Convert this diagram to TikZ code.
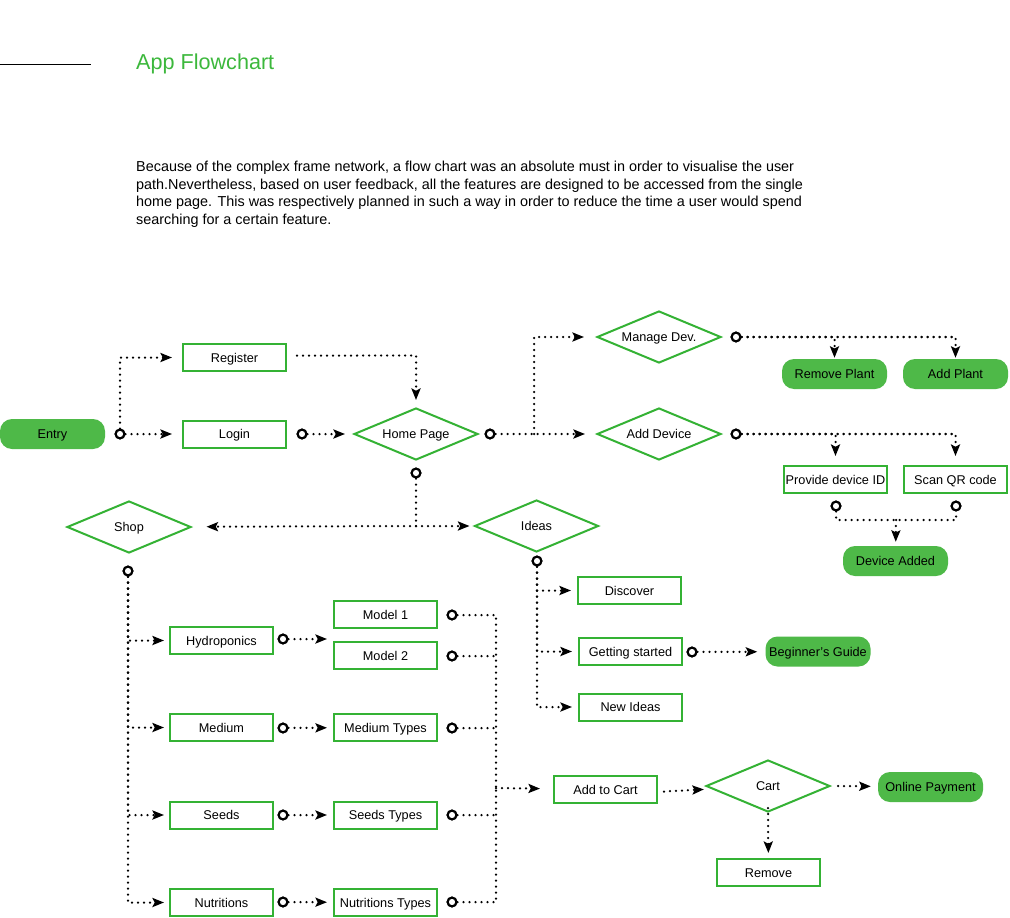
\documentclass[tikz,border=0pt]{standalone}
\usepackage{fontspec}
\setmainfont{Liberation Sans}
\usetikzlibrary{shapes.geometric,arrows.meta}
\definecolor{gline}{RGB}{52,178,52}
\definecolor{gfill}{RGB}{78,185,72}
\definecolor{gtitle}{RGB}{60,184,60}
\begin{document}
\begin{tikzpicture}[x=1pt,y=-1pt,
  nodefont/.style={font=\fontsize{12.7}{14}\selectfont,text height=9.1pt,text depth=0pt},
  box/.style={draw=gline,line width=2pt,minimum width=103pt,minimum height=27pt,inner sep=0pt,nodefont},
  term/.style={fill=gfill,draw=none,rounded corners=12pt,minimum width=105pt,minimum height=30pt,inner sep=0pt,nodefont},
  dia/.style={diamond,aspect=2.4,draw=gline,line width=2pt,minimum width=124pt,minimum height=52pt,inner sep=0pt,nodefont},
  port/.style={circle,draw=black,line width=2pt,fill=white,minimum size=9pt,inner sep=0pt},
  dots/.style={line width=2.5pt,line cap=round,dash pattern=on 0pt off 6pt},
  flow/.style={dots,-{Stealth[length=11.5pt,width=9pt,inset=2.2pt]},shorten >=#1},
  flow/.default=7pt]
\fill[white] (0,0) rectangle (1010,918);
\useasboundingbox (0,0) rectangle (1010,918);

% header
\draw[line width=1pt] (0,64) -- (91,64);
\node[anchor=west,inner sep=0pt,text=gtitle,font=\fontsize{21.6}{24}\selectfont] (title) at (136,63.5) {App Flowchart};
\node[anchor=north west,inner sep=0pt,align=left,font=\fontsize{14.4}{17.5}\selectfont] (body) at (136,161)
{Because of the complex frame network, a flow chart was an absolute must in order to visualise the user\\
path.Nevertheless, based on user feedback, all the features are designed to be accessed from the single\\
home page. This was respectively planned in such a way in order to reduce the time a user would spend\\
searching for a certain feature.};

% nodes
\node[term] (entry) at (52.5,434) {Entry};
\node[box] (register) at (234.5,357.5) {Register};
\node[box] (login) at (234.5,434) {Login};
\node[dia] (home) at (416,434) {Home Page};
\node[dia] (managedev) at (659,337) {Manage Dev.};
\node[dia] (adddev) at (659,434) {Add Device};
\node[term] (removeplant) at (834.5,374) {Remove Plant};
\node[term] (addplant) at (955.5,374) {Add Plant};
\node[box] (provide) at (835.5,479.5) {Provide device ID};
\node[box] (scan) at (955.5,479.5) {Scan QR code};
\node[term] (devadded) at (895.5,561) {Device Added};
\node[dia] (shop) at (129,527) {Shop};
\node[dia] (ideas) at (536.5,526) {Ideas};
\node[box] (hydro) at (221.5,640.5) {Hydroponics};
\node[box] (model1) at (385.5,614.5) {Model 1};
\node[box] (model2) at (385.5,655.5) {Model 2};
\node[box] (medium) at (221.5,727.5) {Medium};
\node[box] (mediumt) at (385.5,727.5) {Medium Types};
\node[box] (seeds) at (221.5,815) {Seeds};
\node[box] (seedst) at (385.5,815) {Seeds Types};
\node[box] (nutri) at (221.5,902.5) {Nutritions};
\node[box] (nutrit) at (385.5,902.5) {Nutritions Types};
\node[box] (discover) at (629.5,590.5) {Discover};
\node[box] (getting) at (630.5,651.5) {Getting started};
\node[box] (newideas) at (630.5,707) {New Ideas};
\node[term] (guide) at (818,651.5) {Beginner’s Guide};
\node[box] (addcart) at (605.5,789.5) {Add to Cart};
\node[dia] (cart) at (768,786) {Cart};
\node[term] (pay) at (930.5,787) {Online Payment};
\node[box] (remove) at (768.5,872.5) {Remove};

% ports (small open circles)
\node[port] (pEntry) at (120,434) {};
\node[port] (pLogin) at (302,434) {};
\node[port] (pHomeR) at (490,434) {};
\node[port] (pHomeB) at (416,473) {};
\node[port] (pManage) at (736,337) {};
\node[port] (pAdd) at (736,434) {};
\node[port] (pProvide) at (836,506) {};
\node[port] (pScan) at (956,506) {};
\node[port] (pShop) at (128,571) {};
\node[port] (pIdeas) at (537,561) {};
\node[port] (pHydro) at (283,639) {};
\node[port] (pMedium) at (283,728) {};
\node[port] (pSeeds) at (283,815) {};
\node[port] (pNutri) at (283,902) {};
\node[port] (pM1) at (452,615) {};
\node[port] (pM2) at (452,656) {};
\node[port] (pMT) at (452,728) {};
\node[port] (pST) at (452,815) {};
\node[port] (pNT) at (452,902) {};
\node[port] (pGetting) at (692,652) {};

% junctions
\coordinate (j1) at (534,434);
\coordinate (j2) at (896,520);
\coordinate (j3) at (416,526);
\coordinate (j4) at (496,788);
\coordinate (mg) at (327,639);
\coordinate (jm) at (956,337);
\coordinate (ja) at (956,434);

% connectors
\draw[flow=10pt] (pEntry) -- (login);
\draw[flow=10pt] (pEntry) |- (register);
\draw[flow=7pt] ([xshift=10pt,yshift=2pt]register.east) -| (home);
\draw[flow=8pt] (pLogin) -- (home);
\draw[flow=11pt] (pHomeR) -- (adddev);
\draw[flow=12pt] (j1) |- (managedev);

\draw[dots] (pManage) -- (jm);
\draw[flow=1pt] (pManage) -| (removeplant);
\draw[flow=1pt] (pManage) -| (addplant);

\draw[dots] (pAdd) -- (ja);
\draw[flow=9pt] (pAdd) -| (provide);
\draw[flow=9pt] (pAdd) -| (scan);

\draw[dots] (pProvide) |- (j2) -| (pScan);
\draw[flow=4pt] (j2) -- (devadded);

\draw[dots] (pHomeB) -- (j3);
\draw[flow=15pt] (j3) -- (shop);
\draw[flow=4pt] (j3) -- (ideas);

\draw[flow=5pt] (pShop) |- (hydro);
\draw[flow=5pt] (pShop) |- (medium);
\draw[flow=5pt] (pShop) |- (seeds);
\draw[flow=5pt] (pShop) |- (nutri);

\draw[flow=0pt] (pHydro) -- (mg);
\draw[flow=6pt] (pMedium) -- (mediumt);
\draw[flow=6pt] (pSeeds) -- (seedst);
\draw[flow=6pt] (pNutri) -- (nutrit);

\draw[dots] (pM1) -| (j4);
\draw[dots] (pNT) -| (j4);
\draw[dots] (pM2) -- (pM2 -| j4);
\draw[dots] (pMT) -- (pMT -| j4);
\draw[dots] (pST) -- (pST -| j4);
\draw[flow=13pt] (j4) -- (addcart);

\draw[flow=8pt] ([xshift=6pt,yshift=-2pt]addcart.east) -- (cart);
\draw[flow=7pt] ([xshift=7pt]cart.east) -- (pay);
\draw[flow=5pt] ([yshift=5pt]cart.south) -- (remove);

\draw[flow=6pt] (pIdeas) |- (discover);
\draw[flow=6pt] (pIdeas) |- (getting);
\draw[flow=6pt] (pIdeas) |- (newideas);
\draw[flow=8pt] (pGetting) -- (guide);

% redraw ports on top of lines
\foreach \p in {pEntry,pLogin,pHomeR,pHomeB,pManage,pAdd,pProvide,pScan,pShop,pIdeas,pHydro,pMedium,pSeeds,pNutri,pM1,pM2,pMT,pST,pNT,pGetting}
  \draw[line width=2pt,fill=white] (\p) circle (4.3pt);
\end{tikzpicture}
\end{document}
